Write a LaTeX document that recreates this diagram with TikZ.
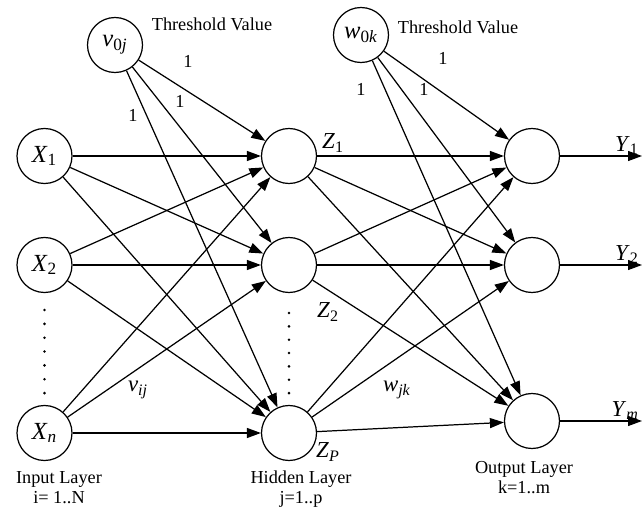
\documentclass[tikz,border=0pt]{standalone}
\usepackage{fontspec}
\setmainfont{Liberation Serif}
\usepackage{tikz}
\usetikzlibrary{arrows.meta,positioning}
\newcommand{\nsub}[2]{\textit{#1}\textsubscript{#2}}

\begin{document}
\begin{tikzpicture}[
  neuron/.style={draw,circle,line width=0.7pt,minimum size=1.1cm,inner sep=0pt,font=\fontsize{14}{16}\selectfont},
  conn/.style={-{Triangle[length=2.8mm,width=2mm]},line width=0.7pt},
  lbl/.style={font=\fontsize{10.4}{12}\selectfont},
  var/.style={font=\fontsize{13}{15}\selectfont,inner sep=0pt},
  layerlbl/.style={align=center,font=\fontsize{10.4}{11.4}\selectfont}
]
  \useasboundingbox (0,0) rectangle (12.84,10.12);
  \coordinate (edge) at (12.84,0);
  % Input layer
  \foreach \n/\y/\s in {x1/7.0/1,x2/4.82/2,xn/1.46/\textit{n}}{
    \node[neuron] (\n) at (0.89,\y) {\nsub{X}{\s}};
  }
  % Hidden layer
  \foreach \n/\y in {h1/7.0,h2/4.82,hp/1.46}{
    \node[neuron] (\n) at (5.78,\y) {};
  }
  % Output layer
  \foreach \n/\y in {o1/7.0,o2/4.82,om/1.70}{
    \node[neuron] (\n) at (10.64,\y) {};
  }
  % Thresholds
  \node[neuron] (v0) at (2.3,9.22) {\nsub{v}{0\textit{j}}};
  \node[neuron] (w0) at (7.22,9.42) {\nsub{w}{0\textit{k}}};
  \node[lbl] (thv) at (4.24,9.64) {Threshold Value};
  \node[lbl] (thw) at (9.16,9.58) {Threshold Value};
  % Weights
  \foreach \i in {x1,x2,xn}{
    \foreach \j in {h1,h2,hp}
      \draw[conn] (\i) -- (\j);
  }
  \foreach \j in {h1,h2,hp}{
    \draw[conn] (v0) -- (\j);
    \foreach \k in {o1,o2,om}
      \draw[conn] (\j) -- (\k);
  }
  \foreach \k in {o1,o2,om}
    \draw[conn] (w0) -- (\k);
  % Outputs
  \foreach \k/\s in {o1/1,o2/2,om/\textit{m}}{
    \coordinate (y\k) at (\k -| edge);
    \draw[conn] (\k) -- (y\k)
      node[var,anchor=south east,xshift=-1.5pt,yshift=0.5pt] (lbl\k) {\nsub{Y}{\s}};
  }
  % Bias weights
  \node[lbl] (ba) at (3.76,8.9) {1};
  \node[lbl] (bb) at (3.6,8.1) {1};
  \node[lbl] (bc) at (2.66,7.82) {1};
  \node[lbl] (bd) at (8.86,8.96) {1};
  \node[lbl] (be) at (8.48,8.34) {1};
  \node[lbl] (bf) at (7.22,8.34) {1};
  \node[var] (vij) at (2.76,2.32) {\nsub{v}{\textit{ij}}};
  \node[var] (wjk) at (7.94,2.32) {\nsub{w}{\textit{jk}}};
  % Hidden outputs
  \node[var] (z1) at (6.66,7.26) {\nsub{Z}{1}};
  \node[var] (z2) at (6.56,3.88) {\nsub{Z}{2}};
  \node[var] (zp) at (6.56,1.08) {\nsub{Z}{\textit{P}}};
  % Dots
  \foreach \y in {0,...,6}{
    \fill (0.89,3.92-\y*0.277) circle (0.8pt);
    \fill (5.78,3.86-\y*0.267) circle (0.8pt);
  }
  % Layer names
  \node[layerlbl] (inl) at (1.18,0.36) {Input Layer\\i= 1..N};
  \node[layerlbl] (hidl) at (6.02,0.34) {Hidden Layer\\j=1..p};
  \node[layerlbl] (outl) at (10.48,0.56) {Output Layer\\k=1..m};
\end{tikzpicture}
\end{document}
